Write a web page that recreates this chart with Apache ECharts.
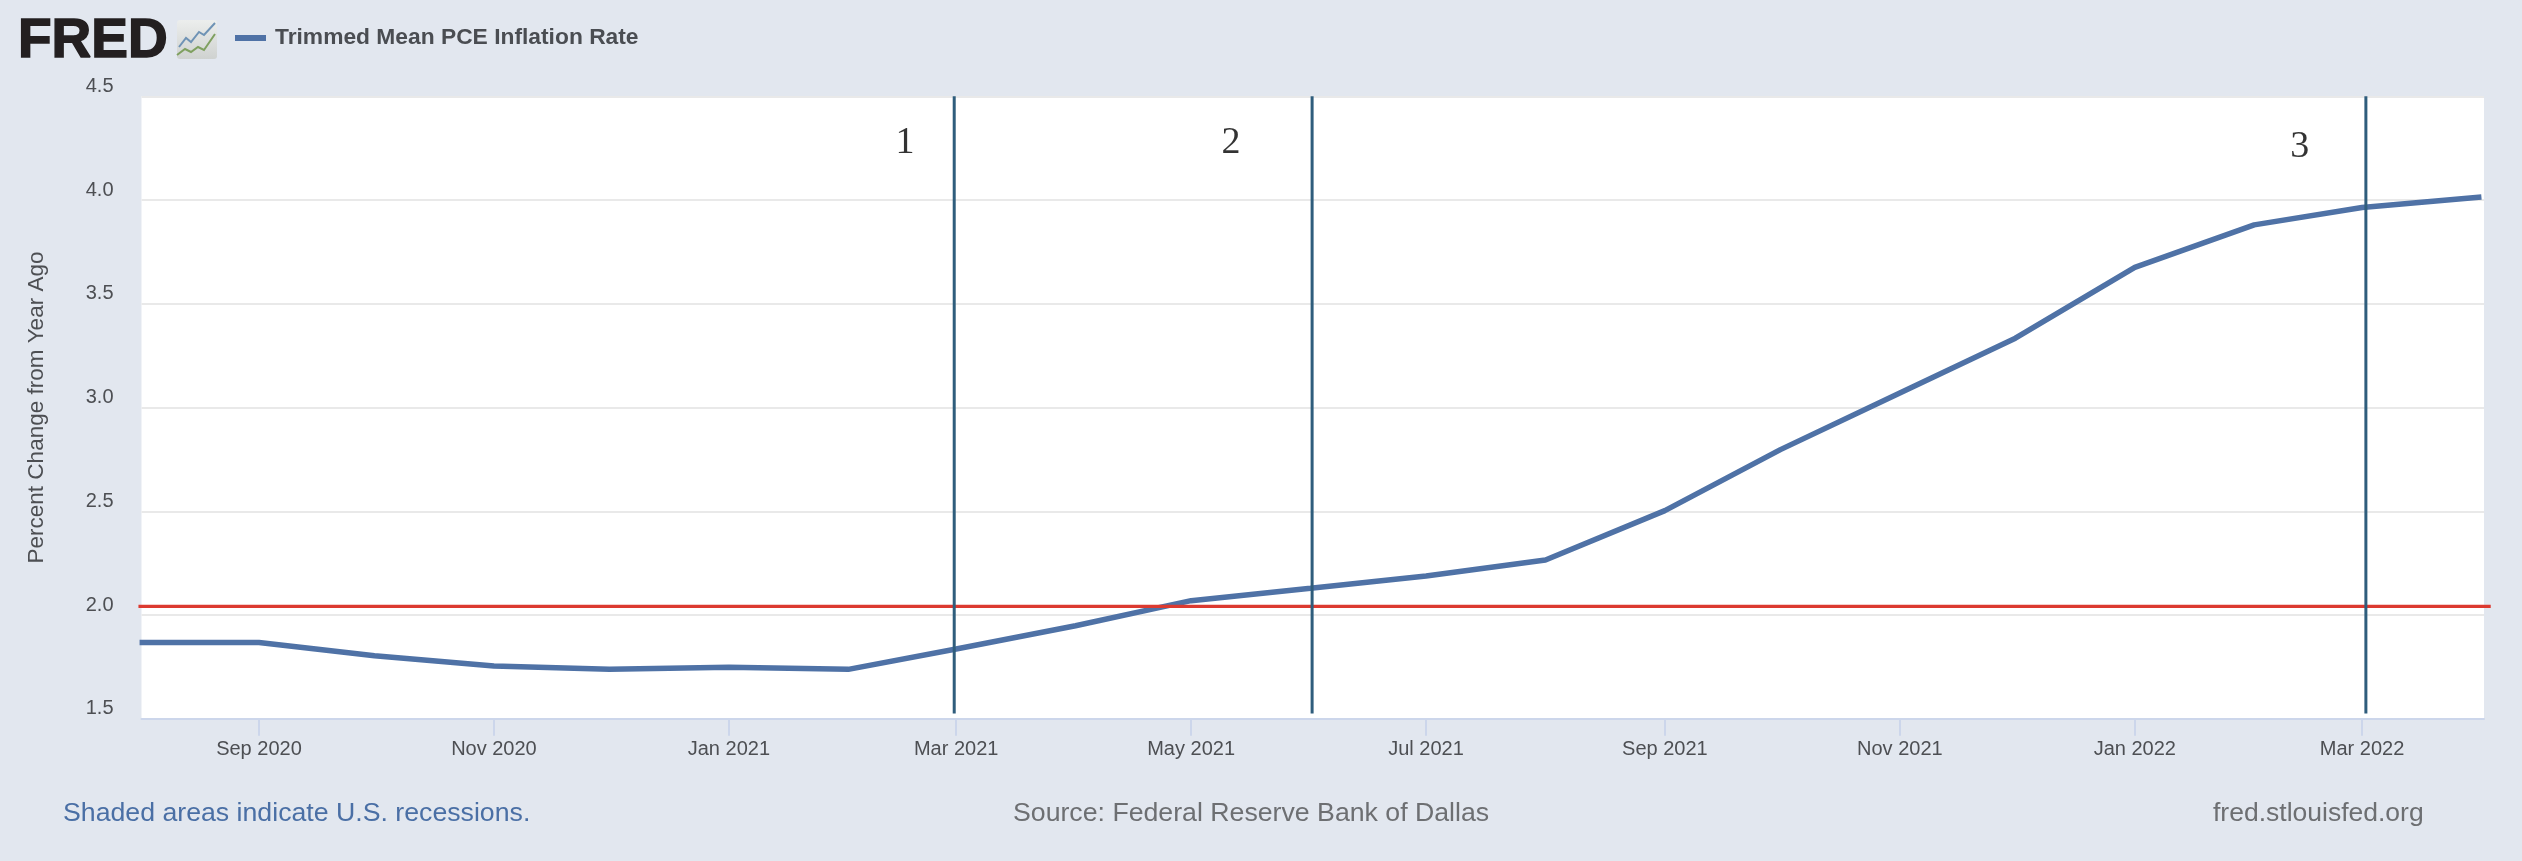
<!DOCTYPE html>
<html>
<head>
<meta charset="utf-8">
<style>html,body{margin:0;padding:0;background:#e2e7ef}#c{width:2522px;height:861px}</style>
<script src="https://cdn.jsdelivr.net/npm/echarts@6/dist/echarts.min.js"></script>
</head>
<body>
<div id="c"></div>
<script>
const seriesName = 'Trimmed Mean PCE Inflation Rate';
const months = ['2020-08-01','2020-09-01','2020-10-01','2020-11-01','2020-12-01','2021-01-01','2021-02-01','2021-03-01','2021-04-01','2021-05-01','2021-06-01','2021-07-01','2021-08-01','2021-09-01','2021-10-01','2021-11-01','2021-12-01','2022-01-01','2022-02-01','2022-03-01','2022-04-01'];
const values = [1.867,1.867,1.804,1.754,1.738,1.748,1.738,1.836,1.948,2.069,2.129,2.188,2.265,2.503,2.797,3.07,3.334,3.675,3.88,3.964,4.015];
const tickDates = ['2020-09-01','2020-11-01','2021-01-01','2021-03-01','2021-05-01','2021-07-01','2021-09-01','2021-11-01','2022-01-01','2022-03-01'];
const tickLabels = ['Sep 2020','Nov 2020','Jan 2021','Mar 2021','May 2021','Jul 2021','Sep 2021','Nov 2021','Jan 2022','Mar 2022'];
const refLineValue = 2.042;
const refLineRange = ['2020-07-31T17:00:00Z','2022-04-03T10:00:00Z'];
const markerDates = ['2021-02-28T12:00:00Z','2021-06-01T10:00:00Z','2022-03-02T00:00:00Z'];
const markerRange = [1.525,4.5];
const noteTexts = ['1','2','3'];
const noteDates = ['2021-02-15T17:00:00Z','2021-05-11T08:00:00Z','2022-02-12T20:00:00Z'];
const noteValues = [4.275,4.275,4.255];
const axisMin = '2020-08-01T12:00:00Z', axisMax = '2022-04-01T16:00:00Z';

const ms = s => Date.parse(s.length === 10 ? s + 'T00:00:00Z' : s);
const tickMs = tickDates.map(ms);
const markerSeries = markerDates.map(d => ({
  type: 'line', silent: true, symbol: 'none', z: 5, clip: false,
  lineStyle: { color: '#2f5d7c', width: 3 },
  data: [[ms(d), markerRange[0]], [ms(d), markerRange[1]]]
}));

const chart = echarts.init(document.getElementById('c'), null, { renderer: 'canvas' });
chart.setOption({
  animation: false,
  backgroundColor: '#e2e7ef',
  textStyle: { fontFamily: '"Liberation Sans", Arial, sans-serif' },
  grid: { left: 141.5, top: 96.25, width: 2342.5, height: 622.5, show: true, backgroundColor: '#fff', borderWidth: 0 },
  legend: {
    left: 235, top: 26.5, padding: 0, itemWidth: 31, itemHeight: 6, itemGap: 0, icon: 'rect', data: [seriesName],
    selectedMode: false,
    textStyle: { fontFamily: '"Liberation Sans", Arial, sans-serif', fontSize: 22.8, fontWeight: 'bold', color: '#4a4d52', padding: [0, 0, 0, 4] }
  },
  xAxis: {
    type: 'value', min: ms(axisMin), max: ms(axisMax), scale: true,
    axisLine: { show: true, lineStyle: { color: '#ccd6eb', width: 2 } },
    axisTick: { show: true, length: 17, customValues: tickMs, lineStyle: { color: '#ccd6eb', width: 2 } },
    axisLabel: {
      customValues: tickMs, margin: 21, fontSize: 20, color: '#4d4f53', hideOverlap: false,
      formatter: v => tickLabels[tickMs.indexOf(v)] || ''
    },
    splitLine: { show: false }
  },
  yAxis: {
    type: 'value', min: 1.5, max: 4.5, interval: 0.5,
    name: 'Percent Change from Year Ago', nameLocation: 'middle', nameGap: 93, nameRotate: 90,
    nameTextStyle: { fontSize: 22.5, color: '#4d4f53' },
    axisLine: { show: false }, axisTick: { show: false },
    axisLabel: { margin: 28, fontSize: 20, color: '#4d4f53', verticalAlign: 'bottom', formatter: v => v.toFixed(1) },
    splitLine: { show: true, lineStyle: { color: '#e9e9e9', width: 2 } }
  },
  series: [
    { name: seriesName, type: 'line', symbol: 'none', z: 3, itemStyle: { color: '#4f72a6' },
      lineStyle: { color: '#4f72a6', width: 5.5 }, data: months.map((m, i) => [ms(m), values[i]]) },
    { type: 'custom', silent: true, z: 4, clip: false,
      renderItem: (params, api) => {
        const a = api.coord([api.value(0), api.value(2)]);
        const b = api.coord([api.value(1), api.value(2)]);
        return { type: 'line', shape: { x1: a[0], y1: a[1], x2: b[0], y2: b[1] }, style: { stroke: '#dc3a30', lineWidth: 3.2 } };
      },
      encode: { x: [0, 1], y: 2 },
      data: [[ms(refLineRange[0]), ms(refLineRange[1]), refLineValue]] },
    ...markerSeries,
    { type: 'scatter', silent: true, symbolSize: 0, z: 6,
      label: { show: true, position: 'inside', formatter: p => noteTexts[p.dataIndex], fontFamily: '"Liberation Serif", "Times New Roman", serif', fontSize: 38, color: '#000' },
      data: noteDates.map((d, i) => [ms(d), noteValues[i]]) }
  ],
  graphic: [
    { type: 'text', x: 18, y: 42, silent: true, style: { text: 'FRED', fontFamily: '"Liberation Sans", Arial', fontWeight: 'bold', fontSize: 55, fill: '#231f20', stroke: '#231f20', lineWidth: 1.5, textVerticalAlign: 'middle' } },
    { type: 'rect', silent: true, shape: { x: 177, y: 20, width: 40, height: 39, r: 3 }, style: { fill: new echarts.graphic.LinearGradient(0, 0, 0, 1, [{ offset: 0, color: '#eceeed' }, { offset: 1, color: '#cfd2d0' }]) } },
    { type: 'polyline', silent: true, shape: { points: [[179,47],[186,38],[191,42],[199,32],[204,35],[215,23]] }, style: { stroke: '#6f93b5', lineWidth: 2, fill: null } },
    { type: 'polyline', silent: true, shape: { points: [[177,55],[185,49],[191,52],[198,47],[204,50],[215,34]] }, style: { stroke: '#7fa060', lineWidth: 2, fill: null } },
    { type: 'text', x: 63, y: 814, silent: true, style: { text: 'Shaded areas indicate U.S. recessions.', fontFamily: '"Liberation Sans", Arial', fontSize: 26.7, fill: '#4a6fa5', textVerticalAlign: 'middle' } },
    { type: 'text', x: 1013, y: 814, silent: true, style: { text: 'Source: Federal Reserve Bank of Dallas', fontFamily: '"Liberation Sans", Arial', fontSize: 26.7, fill: '#6d6f72', textVerticalAlign: 'middle' } },
    { type: 'text', x: 2213, y: 814, silent: true, style: { text: 'fred.stlouisfed.org', fontFamily: '"Liberation Sans", Arial', fontSize: 26.5, fill: '#6d6f72', textVerticalAlign: 'middle' } }
  ]
});
</script>
</body>
</html>
